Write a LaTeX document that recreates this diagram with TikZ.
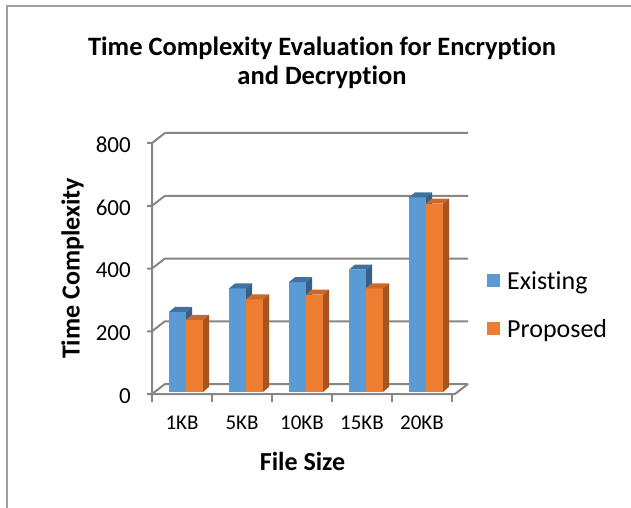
\documentclass[tikz,border=0pt]{standalone}
\usepackage{fontspec}
\setmainfont{Carlito}[Ligatures=NoCommon]
\usetikzlibrary{positioning}
\definecolor{skyblue}{RGB}{91,155,213}
\definecolor{skytop}{RGB}{65,113,160}
\definecolor{tangerine}{RGB}{237,125,49}
\definecolor{tangtop}{RGB}{205,105,40}
\definecolor{tangside}{RGB}{168,84,30}
\definecolor{rule}{RGB}{134,134,134}
\definecolor{border}{RGB}{160,160,160}
\tikzset{
  gridline/.style={draw=rule,line width=2pt},
  ticklbl/.style={font=\fontsize{23}{23}\selectfont,anchor=east,inner sep=0pt},
  catlbl/.style={font=\fontsize{21}{21}\selectfont,inner sep=0pt},
  axislbl/.style={font=\fontsize{26}{26}\selectfont\bfseries,inner sep=0pt},
  keybox/.style={fill=#1,minimum size=13pt,inner sep=0pt},
  keylbl/.style={font=\fontsize{26}{26}\selectfont,anchor=base west,inner sep=0pt},
}

\begin{document}
\begin{tikzpicture}[x=1pt,y=-1pt]
    \useasboundingbox (0,0) rectangle (631,508);
    \draw[border,line width=1.5pt] (631,6) -- (7,6) -- (7,508);
    \node[font=\fontsize{26.5}{29}\selectfont\bfseries,align=center] (title) at (322,62.5)
      {Time Complexity Evaluation for Encryption\\and Decryption};
    % walls and value axis
    \foreach \v in {0,200,...,800} {
      \pgfmathsetmacro{\yf}{394-0.31375*\v}
      \draw[gridline] (147,\yf) -- (152,\yf) -- (165,\yf-10) -- (468,\yf-10);
      \node[ticklbl] (t\v) at (131,\yf+2) {\v};
    }
    \draw[gridline] (152,143) -- (152,394) -- (455,394) -- (468,384);
    \foreach \k in {0,...,5} \draw[gridline] (152+60*\k,394) -- ++(0,8);
    % bars
    \foreach \c/\e/\p [count=\i] in {1KB/255/230,5KB/330/295,10KB/350/310,15KB/390/330,20KB/620/600}
    {
      \pgfmathsetmacro{\xb}{169+60*(\i-1)}
      \pgfmathsetmacro{\xo}{\xb+17}
      \pgfmathsetmacro{\hE}{392-0.314*\e}
      \pgfmathsetmacro{\hP}{392-0.314*\p}
      \fill[skyblue] (\xb,392) rectangle (\xo,\hE);
      \fill[skytop] (\xb,\hE) -- ++(6,-5) -- ++(17,0) -- ++(-6,5) -- cycle;
      \fill[skytop!85!black] (\xo,\hE) -- ++(6,-5) -- (\xo+6,387) -- (\xo,392) -- cycle;
      \fill[tangerine] (\xo,392) rectangle (\xo+17,\hP);
      \fill[tangtop] (\xo,\hP) -- ++(6,-5) -- ++(17,0) -- ++(-6,5) -- cycle;
      \fill[tangside] (\xo+17,\hP) -- ++(6,-5) -- (\xo+23,387) -- (\xo+17,392) -- cycle;
      \node[catlbl] (c\i) at (122+60*\i,423) {\c};
    }
    \node[axislbl,rotate=90] (ytitle) at (72.5,268.5) {Time Complexity};
    \node[axislbl] (xtitle) at (302.5,461) {File Size};
    % legend
    \node[keybox=skyblue] (kE) at (493.5,280.5) {};
    \node[keylbl] (lE) at (507,289) {Existing};
    \node[keybox=tangerine] (kP) at (493.5,328.5) {};
    \node[keylbl] (lP) at (507,337) {Proposed};
  \end{tikzpicture}
\end{document}
